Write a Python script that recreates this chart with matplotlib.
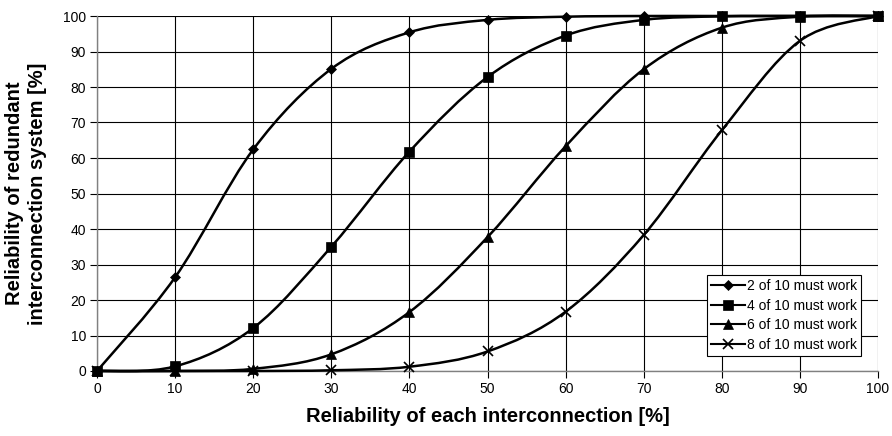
import matplotlib
matplotlib.use("Agg")
import matplotlib.pyplot as plt
import numpy as np
from matplotlib.path import Path
from matplotlib.patches import PathPatch
from matplotlib.lines import Line2D

plt.rcParams['font.family'] = ['Liberation Sans', 'DejaVu Sans']

link_reliability = [0, 10, 20, 30, 40, 50, 60, 70, 80, 90, 100]
two_of_ten = [0, 26.4, 62.4, 85.1, 95.4, 98.9, 99.8, 100, 100, 100, 100]
four_of_ten = [0, 1.3, 12.1, 35.0, 61.8, 82.8, 94.5, 98.9, 99.9, 100, 100]
six_of_ten = [0, 0, 0.6, 4.7, 16.6, 37.7, 63.3, 85.0, 96.7, 99.8, 100]
eight_of_ten = [0, 0, 0, 0.2, 1.2, 5.5, 16.7, 38.3, 67.8, 93.0, 100]

series_labels = ["2 of 10 must work", "4 of 10 must work",
                 "6 of 10 must work", "8 of 10 must work"]
series_values = [two_of_ten, four_of_ten, six_of_ten, eight_of_ten]
series_markers = ["D", "s", "^", "x"]
marker_sizes = [5.5, 6.5, 7, 7]
x_ticks = [0, 10, 20, 30, 40, 50, 60, 70, 80, 90, 100]
y_ticks = [0, 10, 20, 30, 40, 50, 60, 70, 80, 90, 100]


def smooth_path(xs, ys):
    """Cubic Bezier path through the points (spreadsheet-style smoothed line)."""
    pts = np.column_stack([xs, ys]).astype(float)
    n = len(pts)
    verts = [pts[0]]
    codes = [Path.MOVETO]
    for i in range(n - 1):
        p0 = pts[i - 1] if i > 0 else pts[i]
        p1 = pts[i]
        p2 = pts[i + 1]
        p3 = pts[i + 2] if i + 2 < n else pts[i + 1]
        c1 = p1 + (p2 - p0) / 6.0
        c2 = p2 - (p3 - p1) / 6.0
        verts += [c1, c2, p2]
        codes += [Path.CURVE4] * 3
    return Path(verts, codes)


fig = plt.figure(figsize=(8.92, 4.36), dpi=100)
ax = fig.add_axes([97 / 892, 1 - 371 / 436, (878 - 97) / 892, (371 - 16) / 436])

ax.set_xlim(0, 100)
ax.set_ylim(0, 100)
ax.set_xticks(x_ticks)
ax.set_yticks(y_ticks)
ax.grid(True, color="black", linewidth=0.8)
ax.set_axisbelow(True)
for side in ["top", "right"]:
    ax.spines[side].set_visible(False)
for side in ["left", "bottom"]:
    ax.spines[side].set_color("#808080")
    ax.spines[side].set_linewidth(1.0)
ax.tick_params(axis="both", direction="out", length=5, width=0.8,
               color="black", labelsize=10, pad=3)

handles = []
for vals, lab, mk, ms in zip(series_values, series_labels, series_markers, marker_sizes):
    patch = PathPatch(smooth_path(link_reliability, vals), facecolor="none",
                      edgecolor="black", linewidth=1.8, zorder=3, clip_on=False)
    ax.add_patch(patch)
    mew = 1.2 if mk == "x" else 0.5
    ax.plot(link_reliability, vals, linestyle="none", marker=mk, markersize=ms,
            color="black", markeredgewidth=mew, zorder=4, clip_on=False)
    handles.append(Line2D([], [], color="black", linewidth=1.5, marker=mk,
                          markersize=ms, markeredgewidth=mew))

leg = ax.legend(handles, series_labels, loc="lower right",
                bbox_to_anchor=(0.982, 0.035), fontsize=10, frameon=True,
                fancybox=False, edgecolor="black", framealpha=1,
                handlelength=2.4, handletextpad=0.15, borderpad=0.3,
                labelspacing=0.4, borderaxespad=0.2)
leg.get_frame().set_linewidth(0.8)
leg.set_zorder(10)

ax.set_xlabel("Reliability of each interconnection [%]", fontsize=14.5,
              fontweight="bold", labelpad=8)
ax.set_ylabel("Reliability of redundant\ninterconnection system [%]",
              fontsize=14.5, fontweight="bold", labelpad=11, linespacing=1.3)

fig.savefig("out.png", dpi=100)
